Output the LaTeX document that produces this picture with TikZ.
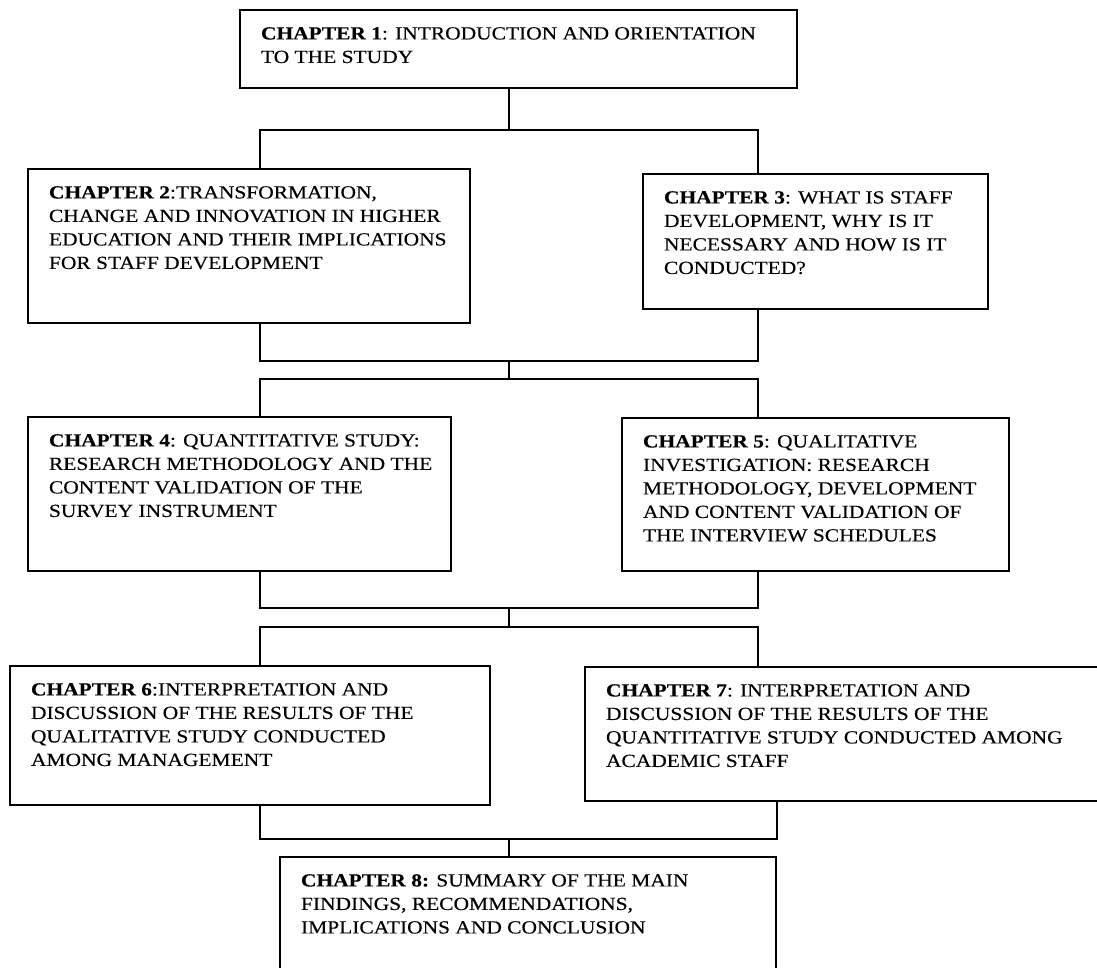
\documentclass[tikz,border=0pt]{standalone}
\usepackage{fontspec}
\setmainfont{Liberation Serif}[FakeStretch=1.16, FakeBold=0.3]
\usepackage{tikz}
\usetikzlibrary{positioning}
\newcommand{\chapbody}[3]{\parbox[t][\dimexpr#2pt-26pt\relax][t]{\dimexpr#1pt-42pt\relax}{\fontsize{18.5}{23.5}\selectfont\begin{tabular}[t]{@{}l@{}}#3\end{tabular}}}
\tikzset{
    chapbox/.style = {rectangle, draw=black, line width=1.8pt, anchor=north west, inner xsep=21pt, inner ysep=13pt, outer sep=0pt},
    link/.style = {draw=black, line width=1.2pt},
}

\begin{document}
\begin{tikzpicture}[x=1pt,y=-1pt]
\useasboundingbox (0,0) rectangle (1097,967);
\clip (0,0) rectangle (1097,967);
%
\coordinate (l) at (260,0);
\coordinate (r) at (758,0);
\coordinate (rr) at (777,0);
\coordinate (s1) at (509,130);
\coordinate (s2) at (509,361);
\coordinate (s3) at (509,379);
\coordinate (s4) at (509,608);
\coordinate (s5) at (509,627);
\coordinate (s6) at (509,839);
%
\node[chapbox] at (240,10) (c1) {\chapbody{557}{78}{\textbf{CHAPTER 1}: INTRODUCTION AND ORIENTATION\\ TO THE STUDY}};
\node[chapbox] at (28,169) (c2) {\chapbody{442}{154}{\textbf{CHAPTER 2}:TRANSFORMATION,\\ CHANGE AND INNOVATION IN HIGHER\\ EDUCATION AND THEIR IMPLICATIONS\\ FOR STAFF DEVELOPMENT}};
\node[chapbox] at (643,174) (c3) {\chapbody{345}{135}{\textbf{CHAPTER 3}: WHAT IS STAFF\\ DEVELOPMENT, WHY IS IT\\ NECESSARY AND HOW IS IT\\ CONDUCTED?}};
\node[chapbox] at (28,417) (c4) {\chapbody{423}{154}{\textbf{CHAPTER 4}: QUANTITATIVE STUDY:\\ RESEARCH METHODOLOGY AND THE\\ CONTENT VALIDATION OF THE\\ SURVEY INSTRUMENT}};
\node[chapbox] at (622,418) (c5) {\chapbody{387}{153}{\textbf{CHAPTER 5}: QUALITATIVE\\ INVESTIGATION: RESEARCH\\ METHODOLOGY, DEVELOPMENT\\ AND CONTENT VALIDATION OF\\ THE INTERVIEW SCHEDULES}};
\node[chapbox] at (10,666) (c6) {\chapbody{480}{139}{\textbf{CHAPTER 6}:INTERPRETATION AND\\ DISCUSSION OF THE RESULTS OF THE\\ QUALITATIVE STUDY CONDUCTED\\ AMONG MANAGEMENT}};
\node[chapbox] at (585,667) (c7) {\chapbody{540}{134}{\textbf{CHAPTER 7}: INTERPRETATION AND\\ DISCUSSION OF THE RESULTS OF THE\\ QUANTITATIVE STUDY CONDUCTED AMONG\\ ACADEMIC STAFF}};
\node[chapbox] at (280,857) (c8) {\chapbody{496}{140}{\textbf{CHAPTER 8:} SUMMARY OF THE MAIN\\ FINDINGS, RECOMMENDATIONS,\\ IMPLICATIONS AND CONCLUSION}};
%
\draw[link] (c1.south -| s1) -- (s1);
\draw[link] (c2.north -| l) |- (s1) -| (c3.north -| r);
\draw[link] (c2.south -| l) |- (s2) -| (c3.south -| r);
\draw[link] (s2) -- (s3);
\draw[link] (c4.north -| l) |- (s3) -| (c5.north -| r);
\draw[link] (c4.south -| l) |- (s4) -| (c5.south -| r);
\draw[link] (s4) -- (s5);
\draw[link] (c6.north -| l) |- (s5) -| (c7.north -| r);
\draw[link] (c6.south -| l) |- (s6) -| (c7.south -| rr);
\draw[link] (s6) -- (c8.north -| s6);
\end{tikzpicture}
\end{document}
